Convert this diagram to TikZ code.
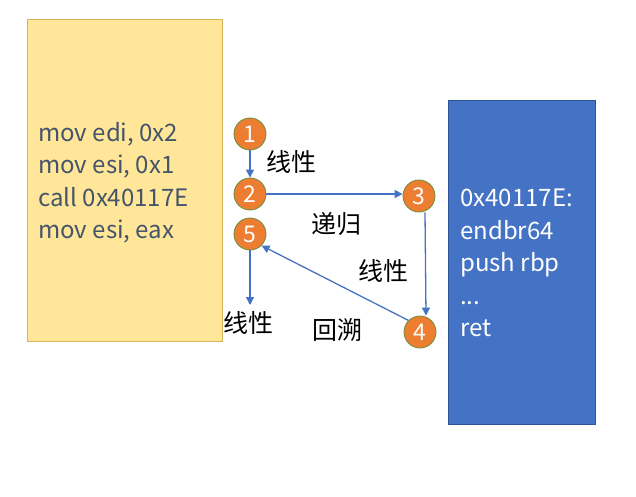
\documentclass[tikz,border=0pt]{standalone}
\usepackage{fontspec}
\setmainfont{Noto Sans CJK SC}
\usetikzlibrary{arrows.meta}
\definecolor{yfill}{HTML}{FFE699}
\definecolor{ydraw}{HTML}{D6B656}
\definecolor{bfill}{HTML}{4472C4}
\definecolor{bdraw}{HTML}{2F5597}
\definecolor{ofill}{HTML}{ED7D31}
\definecolor{odraw}{HTML}{6A8E3A}
\definecolor{codegray}{HTML}{44546A}
\tikzset{
  num/.style={circle,fill=ofill,draw=odraw,line width=0.8pt,minimum size=32pt,inner sep=0pt,text=white,font=\fontsize{23}{23}\selectfont},
  conn/.style={draw=bfill,line width=1.3pt,-{Triangle[length=8pt,width=8pt]}},
  lbl/.style={font=\fontsize{25}{25}\selectfont,text=black},
  code/.style={align=left,anchor=north west,inner sep=0pt,font=\fontsize{24}{32.5}\selectfont}
}
\begin{document}
\begin{tikzpicture}[x=1pt,y=-1pt]
\useasboundingbox (0,0) rectangle (636,497);
\draw[fill=yfill,draw=ydraw,line width=1pt] (27,20) rectangle (222,341);
\draw[fill=bfill,draw=bdraw,line width=1pt] (448,101) rectangle (595,424);
\node[code,text=codegray] (lcode) at (38,122) {mov edi, 0x2\\mov esi, 0x1\\call 0x40117E\\mov esi, eax};
\node[code,text=white] (rcode) at (460,189) {0x40117E:\\endbr64\\push rbp\\...\\ret};
\node[num] (n1) at (250,134) {1};
\node[num] (n2) at (250,194) {2};
\node[num] (n5) at (250,234) {5};
\node[num] (n3) at (419,196) {3};
\node[num] (n4) at (420,332) {4};
\coordinate (e5) at (250,305);
\draw[conn] (n1) -- (n2);
\draw[conn] (n2.east) -- (n3.west |- n2.east);
\draw[conn] ([xshift=6pt]n3.south) -- ([xshift=6pt]n4.north);
\draw[conn] (n4.north west) -- (n5.south east);
\draw[conn] (n5) -- (e5);
\node[lbl] (l1) at (291,162) {线性};
\node[lbl] (l2) at (336,224) {递归};
\node[lbl] (l3) at (383,271) {线性};
\node[lbl] (l4) at (248,323) {线性};
\node[lbl] (l5) at (337,330) {回溯};
\end{tikzpicture}
\end{document}
